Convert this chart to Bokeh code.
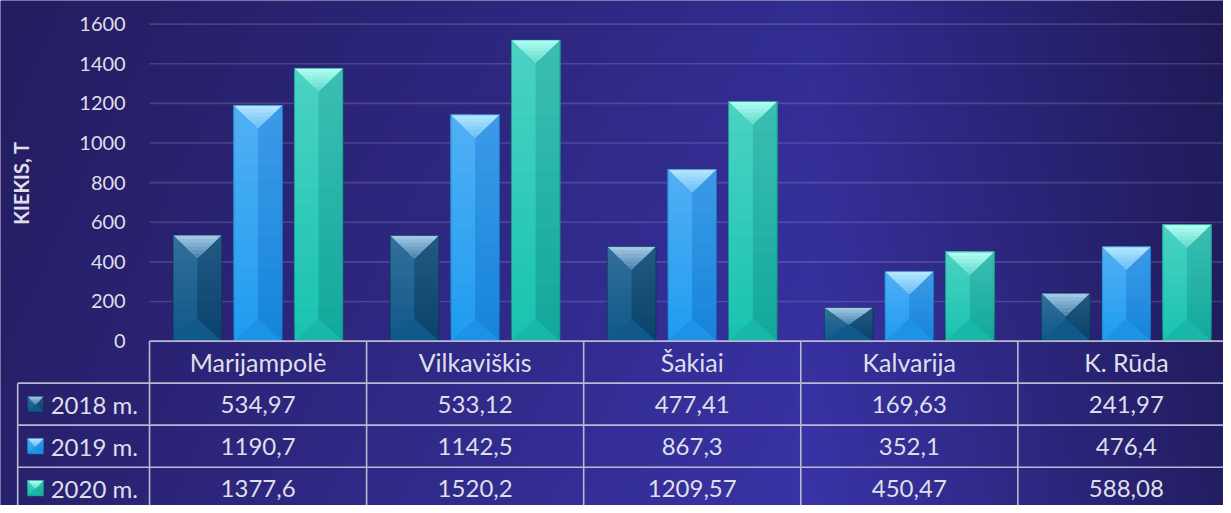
import numpy as np
from bokeh.plotting import figure
from bokeh.models import Range1d
from bokeh.core.properties import value
from bokeh.embed import file_html
from bokeh.resources import INLINE

# ---------------- data ----------------
categories = ["Marijampolė", "Vilkaviškis", "Šakiai", "Kalvarija", "K. Rūda"]
series_names = ["2018 m.", "2019 m.", "2020 m."]
v2018 = [534.97, 533.12, 477.41, 169.63, 241.97]
v2019 = [1190.7, 1142.5, 867.3, 352.1, 476.4]
v2020 = [1377.6, 1520.2, 1209.57, 450.47, 588.08]
y_ticks = [0, 200, 400, 600, 800, 1000, 1200, 1400, 1600]
y_title = "KIEKIS, T"

series_values = [v2018, v2019, v2020]

# ---------------- styles ----------------
styles = [
    dict(l=("#33709b", "#0f5889"), r=("#225a83", "#09426c"), t=("#a8cde8", "#4a82ab"), b="#11598a", e="#062f4d"),
    dict(l=("#52b0f4", "#1f9cf0"), r=("#3d9be8", "#1584da"), t=("#b8e8ff", "#68bdf6"), b="#1d93e8", e="#0e5c9a"),
    dict(l=("#4cd3c4", "#18c2b0"), r=("#3abfb2", "#11a89b"), t=("#b4fff4", "#62dacb"), b="#18b7a9", e="#0b7469"),
]
TEXT = "#dfdfe9"
TABLE_LINE = "#b9b9d2"
FONT = "Lato"

# ---------------- layout (reference pixels) ----------------
W, H = 1223, 505
REF_W, REF_H = 1231, 513
PLOT_LEFT = 150.0
ZERO_Y = 346.0
CAT_PX = 218.5
PXU = 322.0 / 1600.0
ROW_PX = 42.7
LEG_LEFT = 17.3
BAR_PX = 49.0
OFF_PX = 61.0
DEPTH_PX = 23.0


def fx(px):
    return (px - PLOT_LEFT) / CAT_PX


def fy(py):
    return (ZERO_Y - py) / PXU


def mix(c1, c2, t):
    a = [int(c1[i:i + 2], 16) for i in (1, 3, 5)]
    b = [int(c2[i:i + 2], 16) for i in (1, 3, 5)]
    return "#%02x%02x%02x" % tuple(round(a[k] + (b[k] - a[k]) * t) for k in range(3))


p = figure(width=W, height=H, output_backend="svg", toolbar_location=None,
           x_range=Range1d(fx(0), fx(REF_W)), y_range=Range1d(fy(REF_H), fy(0)),
           min_border=0)
p.axis.visible = False
p.grid.visible = False
p.outline_line_color = None
p.background_fill_color = "#2e2880"
p.border_fill_color = "#2e2880"

# ---------------- background gradient ----------------
xs_px = np.linspace(0, REF_W, W)
ys_px = np.linspace(0, REF_H, H)
stops_x = [0.0, 820.0, 1231.0]
cols = np.array([[38, 31, 102], [54, 48, 156], [33, 28, 92]], dtype=float)
base = np.stack([np.interp(xs_px, stops_x, cols[:, c]) for c in range(3)], axis=-1)
vert = 0.93 + 0.14 * (ys_px / REF_H)
img = base[None, :, :] * vert[:, None, None]
img = np.clip(img, 0, 255).astype(np.uint32)
img = img[::-1]
rgba = (255 << 24) | (img[:, :, 2] << 16) | (img[:, :, 1] << 8) | img[:, :, 0]
p.image_rgba(image=[rgba.astype(np.uint32)], x=fx(0), y=fy(REF_H),
             dw=fx(REF_W) - fx(0), dh=fy(0) - fy(REF_H))

# ---------------- gridlines ----------------
x_end = fx(REF_W)
p.segment(x0=[0] * (len(y_ticks) - 1), x1=[x_end] * (len(y_ticks) - 1),
          y0=y_ticks[1:], y1=y_ticks[1:], line_color="white", line_alpha=0.15, line_width=1.6)

# ---------------- beveled shapes ----------------
qx0, qx1, qy0, qy1, qc = [], [], [], [], []
pxs, pys, pcol = [], [], []
ox0, ox1, oy0, oy1, ocol = [], [], [], [], []
NB = 16
NT = 6


def bevel(x0, x1, y0, y1, d, st):
    xc = (x0 + x1) / 2
    hw = (x1 - x0) / 2
    # side halves with vertical gradient (overlapping bands, drawn bottom to top)
    for j in range(NB):
        b0 = y0 + (y1 - y0) * j / NB
        t = (j + 0.5) / NB  # 0 at bottom, 1 at top
        qx0.extend([x0, xc]); qx1.extend([xc, x1])
        qy0.extend([b0, b0]); qy1.extend([y1, y1])
        qc.append(mix(st["l"][1], st["l"][0], t))
        qc.append(mix(st["r"][1], st["r"][0], t))
    # bottom triangle
    pxs.append([x0, x1, xc]); pys.append([y0, y0, y0 + d]); pcol.append(st["b"])
    # top triangle: nested triangles from outer (light edge) to inner (apex colour)
    for j in range(NT):
        t0 = d * j / NT
        w0 = hw * (j / NT)
        pxs.append([x0 + w0, x1 - w0, xc])
        pys.append([y1 - t0, y1 - t0, y1 - d])
        pcol.append(mix(st["t"][0], st["t"][1], (j + 0.5) / NT))
    ox0.append(x0); ox1.append(x1); oy0.append(y0); oy1.append(y1); ocol.append(st["e"])


bw = BAR_PX / CAT_PX
off = OFF_PX / CAT_PX
for s, vals in enumerate(series_values):
    for i, v in enumerate(vals):
        xc = i + 0.5 + (s - 1) * off
        d = min(DEPTH_PX / PXU, v / 2)
        bevel(xc - bw / 2, xc + bw / 2, 0, v, d, styles[s])

# legend icons in the table
icon = 16.0
for s in range(3):
    cy = ZERO_Y + ROW_PX * (s + 1.5)
    bevel(fx(LEG_LEFT + 10), fx(LEG_LEFT + 10 + icon), fy(cy + icon / 2), fy(cy - icon / 2),
          (icon / 2) / PXU, styles[s])

p.quad(left=qx0, right=qx1, bottom=qy0, top=qy1, fill_color=qc, line_color=None)
p.patches(xs=pxs, ys=pys, fill_color=pcol, line_color=None)
p.quad(left=ox0, right=ox1, bottom=oy0, top=oy1, fill_color=None,
       line_color=ocol, line_width=1, line_alpha=0.6)

# ---------------- y tick labels and title ----------------
p.text(x=[fx(126)] * len(y_ticks), y=y_ticks, text=[str(t) for t in y_ticks],
       text_font=value(FONT), text_font_size="20px", text_color=TEXT,
       text_align="right", text_baseline="middle")
p.text(x=[fx(21)], y=[fy(185.5)], text=[y_title], angle=np.pi / 2,
       text_font=value(FONT), text_font_size="20px", text_font_style="bold",
       text_color=TEXT, text_align="center", text_baseline="middle")

# ---------------- data table ----------------
n = len(categories)
hx0, hx1, hy = [0], [x_end], [0]
for k in range(1, 4):
    hx0.append(fx(LEG_LEFT)); hx1.append(x_end); hy.append(fy(ZERO_Y + ROW_PX * k))
p.segment(x0=hx0, x1=hx1, y0=hy, y1=hy, line_color=TABLE_LINE, line_width=1.6)
vx, vy0 = [fx(LEG_LEFT)], [fy(ZERO_Y + ROW_PX)]
for i in range(n + 1):
    vx.append(i); vy0.append(0)
p.segment(x0=vx, x1=vx, y0=vy0, y1=[fy(REF_H + 10)] * len(vx), line_color=TABLE_LINE, line_width=1.6)

p.text(x=[i + 0.5 for i in range(n)], y=[fy(ZERO_Y + ROW_PX * 0.5)] * n, text=categories,
       text_font=value(FONT), text_font_size="25px", text_color=TEXT,
       text_align="center", text_baseline="middle")
tx, ty, tt = [], [], []
for s, vals in enumerate(series_values):
    for i, v in enumerate(vals):
        tx.append(i + 0.5); ty.append(fy(ZERO_Y + ROW_PX * (s + 1.5)))
        tt.append(str(v).replace(".", ","))
p.text(x=tx, y=ty, text=tt, text_font=value(FONT), text_font_size="24px",
       text_color=TEXT, text_align="center", text_baseline="middle")
p.text(x=[fx(50.5)] * 3, y=[fy(ZERO_Y + ROW_PX * (s + 1.5)) for s in range(3)],
       text=series_names, text_font=value(FONT), text_font_size="24px",
       text_color=TEXT, text_align="left", text_baseline="middle")

open("out.html", "w").write(file_html(p, INLINE))
